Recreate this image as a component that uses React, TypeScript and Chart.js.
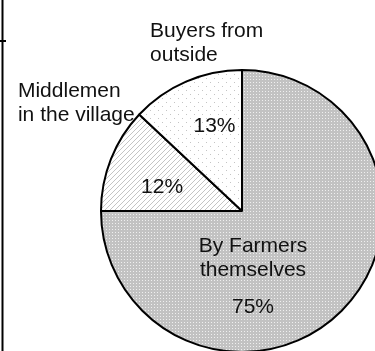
import React, { useEffect, useRef } from "react";
import { Chart, registerables } from "chart.js";

Chart.register(...registerables);

// ---- data ----
const categories = ["By Farmers themselves", "Middlemen in the village", "Buyers from outside"];
const categoryLines = [["By Farmers", "themselves"], ["Middlemen", "in the village"], ["Buyers from", "outside"]];
const shares = [75, 12, 13];

// ---- label placement (fractions of radius, relative to pie centre) ----
const nameAnchors = [
  { dx: 0.078, dy: 0.291, align: "center" },
  { dx: -1.589, dy: -0.809, align: "left" },
  { dx: -0.652, dy: -1.234, align: "left" },
];
const pctAnchors = [
  { dx: 0.078, dy: 0.723 },
  { dx: -0.567, dy: -0.128 },
  { dx: -0.195, dy: -0.56 },
];
const FONT = '21px "Liberation Sans", Arial, sans-serif';
const LINE_H = 24;

function makePattern(kind: string): CanvasPattern | string {
  const c = document.createElement("canvas");
  let n = 3;
  if (kind === "hatch") n = 5;
  if (kind === "sparse") n = 8;
  c.width = n;
  c.height = n;
  const g = c.getContext("2d");
  if (!g) return "#ccc";
  if (kind === "dense") {
    g.fillStyle = "#c2c2c2";
    g.fillRect(0, 0, n, n);
    g.fillStyle = "#efefef";
    g.fillRect(1, 1, 1, 1);
  } else if (kind === "hatch") {
    g.fillStyle = "#ffffff";
    g.fillRect(0, 0, n, n);
    g.fillStyle = "#c4c4c4";
    for (let i = 0; i < n; i++) g.fillRect(i, n - 1 - i, 1, 1);
  } else {
    g.fillStyle = "#ffffff";
    g.fillRect(0, 0, n, n);
    g.fillStyle = "#c4c4c4";
    g.fillRect(2, 2, 1, 1);
    g.fillRect(6, 6, 1, 1);
  }
  const ctx = document.createElement("canvas").getContext("2d");
  const p = ctx ? ctx.createPattern(c, "repeat") : null;
  return p || "#ccc";
}

const labelPlugin = {
  id: "pieLabels",
  afterDraw(chart: any) {
    const meta = chart.getDatasetMeta(0);
    const arc0 = meta.data[0];
    if (!arc0) return;
    const cx = arc0.x;
    const cy = arc0.y;
    const r = arc0.outerRadius;
    const ctx = chart.ctx;
    ctx.save();
    ctx.font = FONT;
    ctx.fillStyle = "#111";
    ctx.textBaseline = "alphabetic";
    categoryLines.forEach((lines, i) => {
      const a = nameAnchors[i];
      ctx.textAlign = a.align;
      lines.forEach((line, j) => {
        ctx.fillText(line, cx + a.dx * r, cy + a.dy * r + j * LINE_H);
      });
      const p = pctAnchors[i];
      ctx.textAlign = "center";
      ctx.fillText(shares[i] + "%", cx + p.dx * r, cy + p.dy * r);
    });
    ctx.restore();
  },
};

const framePlugin = {
  id: "frame",
  afterDraw(chart: any) {
    const ctx = chart.ctx;
    ctx.save();
    ctx.strokeStyle = "#000";
    ctx.lineWidth = 2;
    ctx.beginPath();
    ctx.moveTo(2.5, 0);
    ctx.lineTo(2.5, 360);
    ctx.moveTo(0, 41);
    ctx.lineTo(6, 41);
    ctx.stroke();
    ctx.restore();
  },
};

export default function App() {
  const ref = useRef<HTMLCanvasElement>(null);
  useEffect(() => {
    const canvas = ref.current;
    if (!canvas) return;
    const chart = new Chart(canvas, {
      type: "pie",
      data: {
        labels: categories,
        datasets: [
          {
            data: shares,
            backgroundColor: [makePattern("dense"), makePattern("hatch"), makePattern("sparse")] as any,
            borderColor: "#000",
            borderWidth: 2,
          },
        ],
      },
      options: {
        responsive: false,
        animation: false,
        devicePixelRatio: 1,
        events: [],
        layout: { padding: { left: 100, top: 69, right: 16, bottom: 7 } },
        plugins: { legend: { display: false }, tooltip: { enabled: false } },
      } as any,
      plugins: [labelPlugin, framePlugin],
    });
    return () => chart.destroy();
  }, []);
  return (
    <div
      style={{
        position: "fixed",
        left: 0,
        top: 0,
        width: 375,
        height: 351,
        overflow: "hidden",
        background: "#fff",
      }}
    >
      <canvas
        ref={ref}
        width={400}
        height={360}
        style={{ position: "absolute", left: 0, top: 0, width: 400, height: 360 }}
      />
    </div>
  );
}
